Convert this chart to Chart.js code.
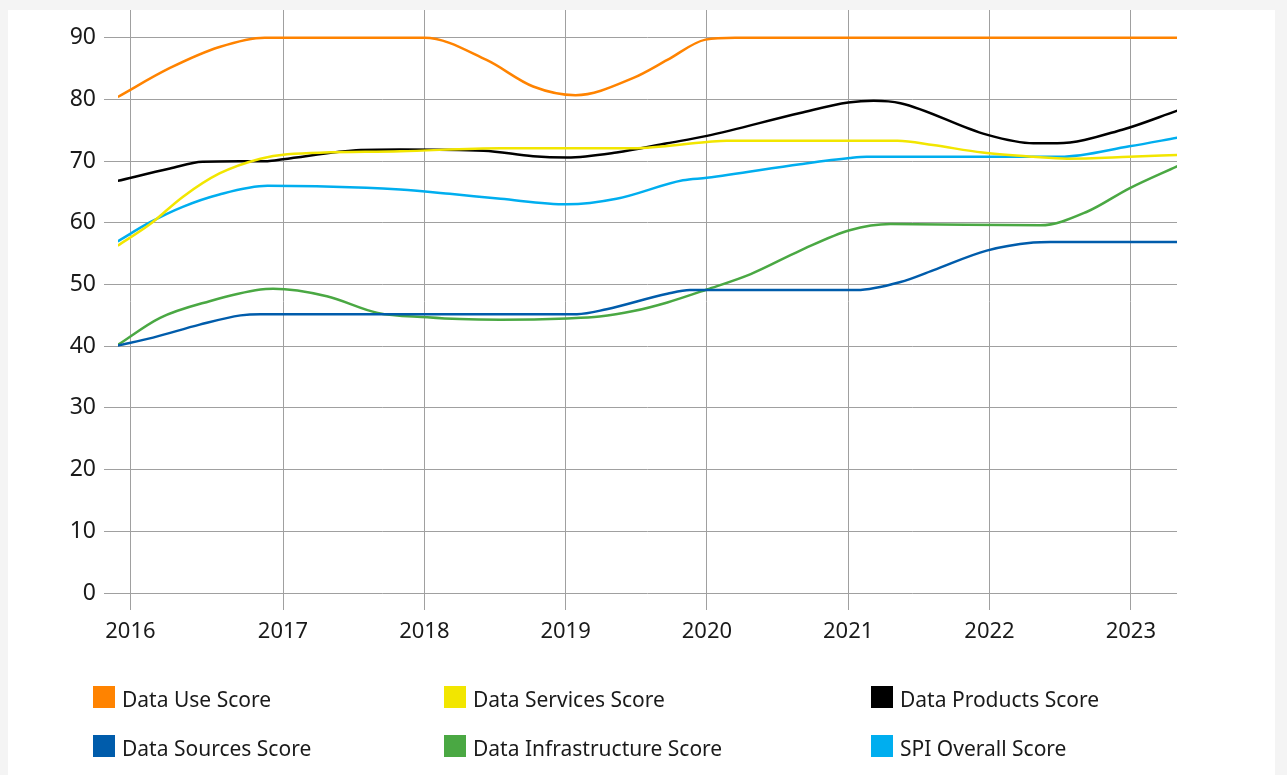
<!DOCTYPE html>
<html>
<head>
<meta charset="utf-8">
<script src="https://cdn.jsdelivr.net/npm/chart.js"></script>
<style>
  html, body { margin: 0; padding: 0; }
  body { width: 1287px; height: 775px; background: #f4f4f4; position: relative; overflow: hidden; font-family: "Noto Sans", sans-serif; }
  #panel { position: absolute; left: 8px; top: 10px; width: 1267px; height: 765px; background: #fff; }
  #chartBox { position: absolute; left: 0; top: 0; width: 1287px; height: 660px; }
  #legenda { position: absolute; left: 0; top: 0; width: 1287px; height: 775px; pointer-events: none; }
  .item { position: absolute; height: 22px; color: #1a1a1a; font-size: 21px; line-height: 22px; white-space: nowrap; }
  .item span.box { position: absolute; left: 0; top: 0; width: 22px; height: 22px; }
  .item span.txt { position: absolute; left: 29px; top: 2px; }
</style>
</head>
<body>
<div id="panel"></div>
<div id="chartBox"><canvas id="spiChart"></canvas></div>
<div id="legenda"></div>
<script>
// tick labels for the x axis (2016 sits a little off the yearly grid in the original)
var anosTicks = [2015.92, 2017, 2018, 2019, 2020, 2021, 2022, 2023];
var anosLabels = ['2016', '2017', '2018', '2019', '2020', '2021', '2022', '2023'];
var scoreTicks = [0, 10, 20, 30, 40, 50, 60, 70, 80, 90];

var seriesLabels = ['Data Use Score', 'Data Services Score', 'Data Products Score',
                    'Data Sources Score', 'Data Infrastructure Score', 'SPI Overall Score'];
var seriesColors = ['#ff8300', '#f2e600', '#000000', '#005cab', '#4aa843', '#00aeef'];

var dataUseYears = [2015.83, 2016.20, 2016.55, 2016.87, 2018.00, 2018.44, 2018.77, 2019.07, 2019.48, 2019.72, 2019.99, 2020.20, 2023.33];
var dataUseScores = [80.4, 85.1, 88.5, 90.0, 90.0, 86.4, 82.1, 80.7, 83.5, 86.4, 89.7, 90.0, 90.0];

var dataServicesYears = [2015.83, 2016.06, 2016.29, 2016.55, 2016.84, 2017.03, 2017.83, 2018.54, 2019.48, 2020.00, 2020.14, 2021.35, 2021.60, 2021.95, 2022.31, 2022.55, 2022.99, 2023.33];
var dataServicesScores = [56.3, 59.8, 64.2, 68.0, 70.4, 71.1, 71.6, 72.1, 72.1, 73.1, 73.3, 73.3, 72.6, 71.4, 70.7, 70.4, 70.7, 71.0];

var dataProductsYears = [2015.83, 2016.20, 2016.43, 2016.89, 2017.00, 2017.55, 2017.83, 2018.42, 2018.77, 2019.01, 2019.36, 2019.72, 2020.00, 2020.66, 2021.00, 2021.18, 2021.37, 2021.98, 2022.31, 2022.48, 2022.94, 2023.33];
var dataProductsScores = [66.8, 68.8, 69.9, 70.0, 70.3, 71.8, 71.9, 71.7, 70.8, 70.6, 71.4, 72.9, 74.1, 77.8, 79.5, 79.8, 79.4, 74.3, 72.9, 72.9, 75.1, 78.2];

var dataSourcesYears = [2015.83, 2016.08, 2016.41, 2016.70, 2016.84, 2019.08, 2019.29, 2019.72, 2019.88, 2021.06, 2021.37, 2021.60, 2021.98, 2022.31, 2022.43, 2023.33];
var dataSourcesScores = [40.1, 41.4, 43.5, 45.0, 45.2, 45.2, 46.0, 48.5, 49.1, 49.1, 50.4, 52.3, 55.5, 56.8, 56.9, 56.9];

var dataInfraYears = [2015.83, 2016.13, 2016.48, 2016.84, 2016.93, 2017.31, 2017.67, 2018.02, 2018.25, 2018.54, 2019.01, 2019.24, 2019.48, 2019.72, 2020.00, 2020.31, 2020.66, 2021.01, 2021.30, 2022.36, 2022.69, 2022.99, 2023.33];
var dataInfraScores = [40.2, 44.6, 47.3, 49.2, 49.3, 48.1, 45.4, 44.7, 44.4, 44.3, 44.5, 44.8, 45.7, 47.1, 49.2, 51.7, 55.5, 58.8, 59.8, 59.6, 61.8, 65.6, 69.2];

var spiOverallYears = [2015.83, 2016.06, 2016.29, 2016.55, 2016.89, 2017.59, 2017.83, 2018.18, 2018.54, 2019.01, 2019.36, 2019.83, 2020.00, 2020.66, 2021.01, 2021.13, 2022.50, 2022.99, 2023.33];
var spiOverallScores = [57.0, 60.1, 62.6, 64.6, 66.0, 65.7, 65.4, 64.7, 63.9, 63.0, 63.9, 66.9, 67.3, 69.5, 70.5, 70.7, 70.7, 72.4, 73.8];

var seriesYears = [dataUseYears, dataServicesYears, dataProductsYears, dataSourcesYears, dataInfraYears, spiOverallYears];
var seriesScores = [dataUseScores, dataServicesScores, dataProductsScores, dataSourcesScores, dataInfraScores, spiOverallScores];

function montarPontos(anos, valores) {
    var pontos = [];
    for (var i = 0; i < anos.length; i++) {
        pontos.push({ x: anos[i], y: valores[i] });
    }
    return pontos;
}

var datasets = [];
for (var s = 0; s < seriesLabels.length; s++) {
    datasets.push({
        label: seriesLabels[s],
        data: montarPontos(seriesYears[s], seriesScores[s]),
        borderColor: seriesColors[s],
        backgroundColor: seriesColors[s],
        borderWidth: 2.5,
        pointRadius: 0,
        cubicInterpolationMode: 'monotone',
        fill: false
    });
}

new Chart(document.getElementById('spiChart'), {
    type: 'line',
    data: { datasets: datasets },
    options: {
        responsive: true,
        maintainAspectRatio: false,
        animation: false,
        layout: { padding: { top: 10, right: 110, left: 0, bottom: 0 } },
        plugins: { legend: { display: false }, tooltip: { enabled: false } },
        scales: {
            x: {
                type: 'linear',
                min: 2015.832,
                max: 2023.327,
                afterBuildTicks: function (scale) {
                    scale.ticks = anosTicks.map(function (v) { return { value: v }; });
                },
                afterFit: function (scale) { scale.height = 67; },
                ticks: {
                    color: '#1a1a1a',
                    font: { family: '"Noto Sans", sans-serif', size: 22 },
                    padding: 9,
                    maxRotation: 0,
                    autoSkip: false,
                    callback: function (value) {
                        var i = anosTicks.indexOf(value);
                        return i >= 0 ? anosLabels[i] : '';
                    }
                },
                grid: { color: '#a0a0a0', lineWidth: 1, tickLength: 17, drawTicks: true },
                border: { display: false }
            },
            y: {
                min: 0,
                max: 94.5,
                afterBuildTicks: function (scale) {
                    scale.ticks = scoreTicks.map(function (v) { return { value: v }; });
                },
                afterFit: function (scale) {
                    scale.width = 118;
                    // the top label is well inside the area, no extra room needed
                    scale.paddingTop = 0;
                    scale.paddingBottom = 0;
                },
                ticks: { color: '#1a1a1a', font: { family: '"Noto Sans", sans-serif', size: 23 }, padding: 8 },
                grid: { color: '#a0a0a0', lineWidth: 1, tickLength: 14, drawTicks: true },
                border: { display: false }
            }
        }
    }
});

// legend in three columns, two rows, like the original
var legendaCols = [93, 444, 871];
var legendaRows = [686, 735];
var legenda = document.getElementById('legenda');
for (var k = 0; k < seriesLabels.length; k++) {
    var div = document.createElement('div');
    div.className = 'item';
    div.style.left = legendaCols[k % 3] + 'px';
    div.style.top = legendaRows[Math.floor(k / 3)] + 'px';
    div.innerHTML = '<span class="box" style="background:' + seriesColors[k] + '"></span><span class="txt">' + seriesLabels[k] + '</span>';
    legenda.appendChild(div);
}
</script>
</body>
</html>
